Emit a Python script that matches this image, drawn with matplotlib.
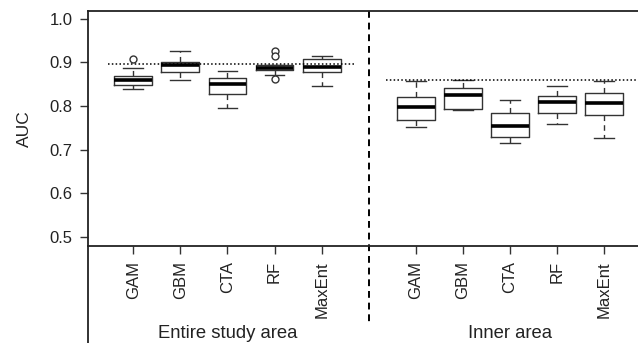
import matplotlib.pyplot as plt
import matplotlib.transforms as mtransforms

plt.rcParams['font.family'] = ['Liberation Sans', 'DejaVu Sans']

# AUC box statistics
models = ['GAM', 'GBM', 'CTA', 'RF', 'MaxEnt']
groups = ['Entire study area', 'Inner area']

entire_whislo = [0.839, 0.859, 0.795, 0.872, 0.846]
entire_q1 = [0.848, 0.878, 0.827, 0.883, 0.879]
entire_med = [0.860, 0.894, 0.850, 0.888, 0.889]
entire_q3 = [0.869, 0.901, 0.864, 0.893, 0.908]
entire_whishi = [0.887, 0.927, 0.881, 0.895, 0.915]
entire_fliers = [[0.908], [], [], [0.927, 0.914, 0.863], []]

inner_whislo = [0.752, 0.791, 0.716, 0.759, 0.726]
inner_q1 = [0.768, 0.793, 0.730, 0.785, 0.780]
inner_med = [0.798, 0.826, 0.755, 0.810, 0.808]
inner_q3 = [0.821, 0.842, 0.784, 0.824, 0.831]
inner_whishi = [0.858, 0.859, 0.813, 0.845, 0.858]
inner_fliers = [[], [], [], [], []]

# reference (dotted) lines per group
ref_auc = [0.897, 0.860]

stats = []
for lo, q1, med, q3, hi, fl in zip(entire_whislo + inner_whislo, entire_q1 + inner_q1,
                                   entire_med + inner_med, entire_q3 + inner_q3,
                                   entire_whishi + inner_whishi, entire_fliers + inner_fliers):
    stats.append({'whislo': lo, 'q1': q1, 'med': med, 'q3': q3, 'whishi': hi, 'fliers': fl})

positions = [1, 2, 3, 4, 5, 7, 8, 9, 10, 11]

fig = plt.figure(figsize=(6.38, 3.43), dpi=100)
ax = fig.add_axes([88 / 638, 97 / 343, 1 - 88 / 638 + 0.01, 235 / 343])

ax.bxp(stats, positions=positions, widths=0.8, showfliers=True,
       boxprops=dict(color='#333333', linewidth=1.0),
       whiskerprops=dict(color='#333333', linewidth=1.0, linestyle=(0, (4, 3))),
       capprops=dict(color='#333333', linewidth=1.0),
       capwidths=0.42,
       medianprops=dict(color='black', linewidth=2.6),
       flierprops=dict(marker='o', markerfacecolor='white', markeredgecolor='#333333',
                       markersize=5, markeredgewidth=1.0))

ax.plot([0.47, 5.68], [ref_auc[0]] * 2, color='black', linestyle=(0, (1, 1.5)), linewidth=1.1)
ax.plot([6.36, 11.68], [ref_auc[1]] * 2, color='black', linestyle=(0, (1, 1.5)), linewidth=1.1)

ax.set_xlim(0.04, 11.85)
ax.set_ylim(0.479, 1.018)
ax.set_yticks([0.5, 0.6, 0.7, 0.8, 0.9, 1.0])
ax.set_yticklabels(['0.5', '0.6', '0.7', '0.8', '0.9', '1.0'])
ax.set_xticks(positions)
ax.set_xticklabels(models + models, rotation=90, va='top')
ax.tick_params(axis='both', labelsize=12, length=6, width=1.0, color='#333333', labelcolor='#222222')
ax.tick_params(axis='y', pad=5)
ax.tick_params(axis='x', pad=5)
ax.set_ylabel('AUC', fontsize=12.5, color='#222222', labelpad=13)

for side in ['top', 'left', 'bottom']:
    ax.spines[side].set_linewidth(1.3)
    ax.spines[side].set_color('#222222')
ax.spines['right'].set_visible(False)

# left spine continues below the axis
ax.plot([0.04, 0.04], [0.479, 0.479 - (97 / 235) * 0.539], color='#222222', linewidth=1.3,
        clip_on=False)
# divider between groups
ax.plot([6, 6], [1.018, 0.479 - (76 / 235) * 0.539], color='black', linewidth=1.4,
        linestyle=(0, (3.5, 2.5)), clip_on=False)

trans = mtransforms.blended_transform_factory(ax.transData, fig.transFigure)
ax.text(3, 1 - 333 / 343, groups[0], transform=trans, ha='center', va='center',
        fontsize=13.3, color='#222222')
ax.text(9, 1 - 333 / 343, groups[1], transform=trans, ha='center', va='center',
        fontsize=13.3, color='#222222')

fig.savefig('out.png', dpi=100)
